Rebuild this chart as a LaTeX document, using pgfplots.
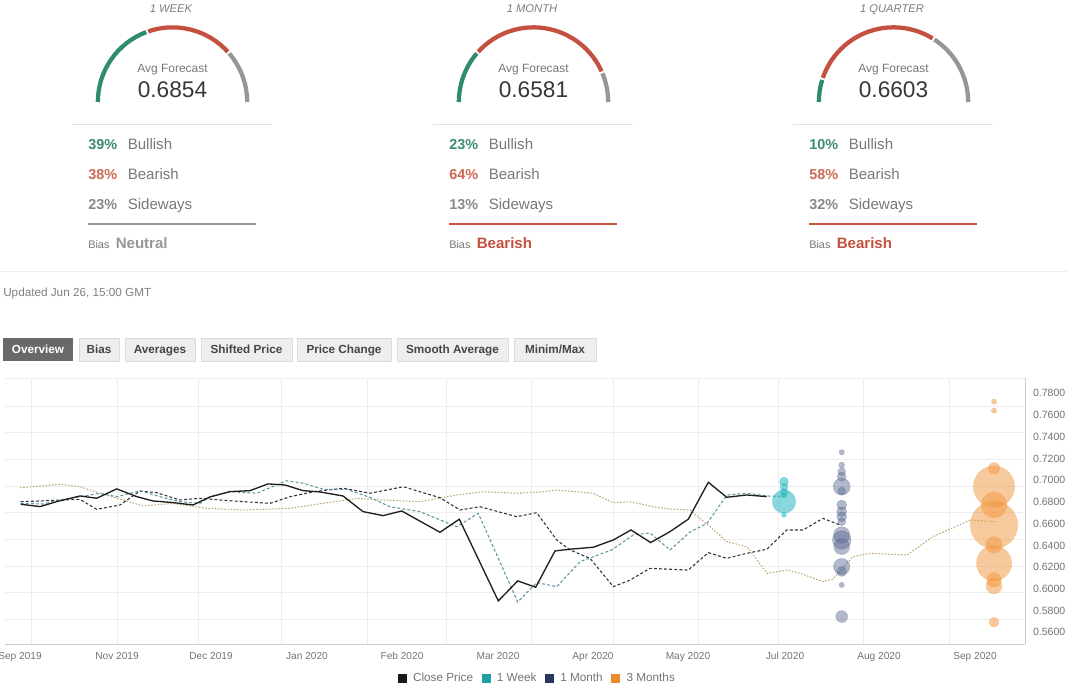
\documentclass[border=0pt]{standalone}
\usepackage{pgfplots}
\pgfplotsset{compat=1.18}
\usepackage{pgfplotstable}
\usepackage{fontspec}
\setmainfont{Liberation Sans}

\definecolor{gGreen}{RGB}{46,139,110}
\definecolor{gRed}{RGB}{196,80,64}
\definecolor{gGray}{RGB}{150,150,150}
\definecolor{pGreen}{RGB}{60,140,112}
\definecolor{pRed}{RGB}{205,105,82}
\definecolor{pGray}{RGB}{135,135,135}
\definecolor{txtGray}{RGB}{120,120,120}
\definecolor{ttlGray}{RGB}{125,125,125}
\definecolor{valGray}{RGB}{55,55,55}
\definecolor{sepGray}{RGB}{225,225,225}
\definecolor{tabFill}{RGB}{238,238,238}
\definecolor{tabBorder}{RGB}{218,218,218}
\definecolor{tabText}{RGB}{70,70,70}
\definecolor{tabDark}{RGB}{105,105,105}
\definecolor{wk}{RGB}{55,188,196}
\definecolor{mo}{RGB}{85,100,142}
\definecolor{qt}{RGB}{240,150,60}
\definecolor{wkLine}{RGB}{95,150,158}
\definecolor{moLine}{RGB}{45,50,65}
\definecolor{qtLine}{RGB}{190,170,120}
\definecolor{lgWk}{RGB}{32,160,162}
\definecolor{lgMo}{RGB}{42,56,95}
\definecolor{lgQt}{RGB}{235,140,45}

\newcommand{\fs}[1]{\fontsize{#1}{#1}\selectfont}

% gauge panel: #1 x offset (px), #2 title, #3 avg, #4 bull, #5 bear, #6 side, #7 bias word, #8 bias colour
\newcommand{\gauge}[8]{%
\begin{scope}[xshift=#1*0.75pt]
\pgfmathsetmacro\aA{180-1.8*#4}
\pgfmathsetmacro\aB{\aA-1.8*#5}
\pgfmathsetmacro\aAp{\aA+0.8}
\pgfmathsetmacro\aAm{\aA-0.8}
\pgfmathsetmacro\aBp{\aB+0.8}
\pgfmathsetmacro\aBm{\aB-0.8}
\draw[gGreen,line width=3.2pt] ([shift={(180:56pt)}]172.5,102) arc[start angle=180,end angle=\aAp,radius=56pt];
\draw[gRed,line width=3.2pt] ([shift={(\aAm:56pt)}]172.5,102) arc[start angle=\aAm,end angle=\aBp,radius=56pt];
\draw[gGray,line width=3.2pt] ([shift={(\aBm:56pt)}]172.5,102) arc[start angle=\aBm,end angle=0,radius=56pt];
\node[anchor=base,inner sep=0,font=\itshape\fs{8.4},text=ttlGray] at (171,12) {#2};
\node[anchor=base,inner sep=0,font=\fs{9},text=txtGray] at (172.5,72) {Avg Forecast};
\node[anchor=base,inner sep=0,font=\fs{17},text=valGray] at (172.5,97.4) {#3};
\draw[sepGray,line width=0.75pt] (72,124) -- (272,124);
\node[anchor=base west,inner sep=0,font=\bfseries\fs{10.8},text=pGreen] at (88,149.4) {#4\%};
\node[anchor=base west,inner sep=0,font=\fs{11.3},text=txtGray] at (127.5,149.4) {Bullish};
\node[anchor=base west,inner sep=0,font=\bfseries\fs{10.8},text=pRed] at (88,179.4) {#5\%};
\node[anchor=base west,inner sep=0,font=\fs{11.3},text=txtGray] at (127.5,179.4) {Bearish};
\node[anchor=base west,inner sep=0,font=\bfseries\fs{10.8},text=pGray] at (88,209.4) {#6\%};
\node[anchor=base west,inner sep=0,font=\fs{11.3},text=txtGray] at (127.5,209.4) {Sideways};
\draw[#8,line width=1.5pt] (88,224) -- (256,224);
\node[anchor=base west,inner sep=0,font=\fs{8.2},text=txtGray] at (88,248.4) {Bias};
\node[anchor=base west,inner sep=0,font=\bfseries\fs{11.3},text=#8] at (115.5,248.4) {#7};
\end{scope}}

\newcommand{\tabbox}[3]{%
\filldraw[fill=tabFill,draw=tabBorder,line width=0.75pt] (#1,338) rectangle (#2,361);
\node[anchor=base,inner sep=0,font=\bfseries\fs{8.8},text=tabText] at ({(#1+#2)/2},353.6) {#3};}

\pgfplotstableread{
x y
20.7 0.6779
40 0.6757
56.7 0.6803
80 0.6855
96.7 0.6834
116.7 0.6920
136.7 0.6849
153 0.6809
173 0.6794
193 0.6772
210 0.6846
230 0.6895
250 0.6904
268 0.6966
285 0.6956
303 0.6904
320 0.6892
343 0.6855
363 0.6711
383 0.6674
401.7 0.6717
440 0.6521
459.3 0.6641
498.3 0.5889
517.7 0.6073
535.7 0.6015
555 0.6349
570 0.6365
593.3 0.6383
613.3 0.6450
631 0.6542
650.7 0.6426
670 0.6527
688.3 0.6641
708.3 0.6981
726.7 0.6843
746.7 0.6864
766.7 0.6849
}\closeprice

\pgfplotstableread{
x y
20.7 0.6787
43.3 0.6781
60 0.6818
80 0.6848
100 0.6880
116.7 0.6848
140 0.6903
160 0.6848
180 0.6802
200 0.6787
210 0.6848
230 0.6894
256.7 0.6880
286.7 0.6995
303.3 0.6972
323.3 0.6916
346.7 0.6916
370 0.6841
390 0.6756
420 0.6710
456.7 0.6572
478.3 0.6695
517.7 0.5879
536.7 0.6058
556.7 0.6020
580 0.6250
611.7 0.6358
633.3 0.6496
650 0.6514
670 0.6358
690 0.6523
707 0.6603
727 0.6864
747 0.6880
767 0.6855
784 0.6849
}\weekline

\pgfplotstableread{
x y
20.7 0.6802
80 0.6824
96.7 0.6732
120 0.6772
140 0.6901
156.7 0.6885
180 0.6818
200 0.6833
230 0.6811
270 0.6787
290 0.6848
313.3 0.6894
343.3 0.6926
370 0.6880
403.3 0.6940
440 0.6839
460 0.6726
480 0.6756
516.7 0.6664
536.7 0.6701
556.7 0.6450
570 0.6358
590 0.6281
613.3 0.6020
630 0.6081
650 0.6189
688.3 0.6173
708.3 0.6333
726.7 0.6281
746.7 0.6327
766.7 0.6364
786.7 0.6542
803 0.6542
823 0.6649
840 0.6588
}\monthline

\pgfplotstableread{
x y
20 0.6931
60 0.6962
80 0.6940
100 0.6880
120 0.6827
143 0.6763
173 0.6787
206 0.6741
243 0.6726
290 0.6741
323 0.6787
357 0.6833
383 0.6818
420 0.6802
457 0.6864
483 0.6894
517 0.6880
543 0.6894
557 0.6910
593 0.6880
613 0.6793
630 0.6802
653 0.6756
670 0.6735
690 0.6726
710 0.6572
727 0.6434
747 0.6388
767 0.6143
787 0.6173
800 0.6143
823 0.6066
833 0.6090
853 0.6296
870 0.6327
907 0.6312
933 0.6480
970 0.6634
997 0.6618
}\quarterline

\pgfplotstableread{
x y r
784 0.6987 3.4
784 0.6938 3.0
784 0.6890 3.0
784 0.6864 2.25
784 0.6803 8.8
784 0.6680 1.9
}\weekbub

\pgfplotstableread{
x y r
841.7 0.7257 2.0
841.7 0.7140 2.25
841.7 0.7079 3.0
841.7 0.7033 3.4
841.7 0.6941 6.4
841.7 0.6900 3.0
841.7 0.6772 3.75
841.7 0.6711 3.75
841.7 0.6665 3.75
841.7 0.6619 3.0
841.7 0.6496 6.2
841.7 0.6450 7.0
841.7 0.6389 6.0
841.7 0.6205 6.2
841.7 0.6160 3.75
841.7 0.6036 2.0
841.7 0.5745 4.5
}\monthbub

\pgfplotstableread{
x y r
994 0.7723 2.0
994 0.7640 2.0
994 0.7110 4.3
994 0.6941 15.5
994 0.6772 9.75
994 0.6588 17.8
994 0.6404 6.2
994 0.6236 13.2
994 0.6082 5.5
994 0.6027 6.0
994 0.5693 3.75
}\quarterbub

\begin{document}
\begin{tikzpicture}
\useasboundingbox (0,0) rectangle (800.25pt,-514.5pt);
\begin{scope}[x=0.75pt,y=-0.75pt]
\gauge{0}{1 WEEK}{0.6854}{39}{38}{23}{Neutral}{gGray}
\gauge{361}{1 MONTH}{0.6581}{23}{64}{13}{Bearish}{gRed}
\gauge{721}{1 QUARTER}{0.6603}{10}{58}{32}{Bearish}{gRed}
\draw[black!7,line width=0.75pt] (0,271) -- (1067,271);
\node[anchor=base west,inner sep=0,font=\fs{8.8},text=black!50] at (3,296) {Updated Jun 26, 15:00 GMT};
\fill[tabDark] (3,338) rectangle (73,361);
\node[anchor=base,inner sep=0,font=\bfseries\fs{8.8},text=white] at (38,353.6) {Overview};
\tabbox{79}{119}{Bias}
\tabbox{125}{195}{Averages}
\tabbox{201}{292}{Shifted Price}
\tabbox{297}{391}{Price Change}
\tabbox{397}{508}{Smooth Average}
\tabbox{514}{596}{Minim/Max}
\end{scope}

\begin{axis}[
  at={(3.75pt,-483pt)}, anchor=south west,
  width=765pt, height=199.5pt, scale only axis,
  xmin=5, xmax=1025, ymin=0.54923, ymax=0.79408,
  axis x line*=bottom, axis y line*=right,
  axis line style={draw=black!20, line width=0.75pt},
  major tick length=0pt,
  xtick={31,117,198,281,367,446,531,613,698,778,863,949},
  xticklabels={},
  xmajorgrids,
  grid style={draw=black!7, line width=0.75pt},
  extra x ticks={20,117,211,307,402,498,593,688,785,879,975},
  extra x tick labels={Sep 2019,Nov 2019,Dec 2019,Jan 2020,Feb 2020,Mar 2020,Apr 2020,May 2020,Jul 2020,Aug 2020,Sep 2020},
  extra x tick style={grid=none, major tick length=0pt},
  x tick label style={font=\fs{7.6}, text=black!55, yshift=-2.5pt},
  ytick={0.56,0.58,0.60,0.62,0.64,0.66,0.68,0.70,0.72,0.74,0.76,0.78},
  yticklabel pos=right,
  y tick label style={font=\fs{7.9}, text=black!55, xshift=2.5pt,
    /pgf/number format/fixed, /pgf/number format/fixed zerofill,
    /pgf/number format/precision=4, /pgf/number format/assume math mode=true},
  extra y ticks={0.7938,0.7683,0.74375,0.7192,0.69465,0.6701,0.64555,0.621,0.59645,0.5719},
  extra y tick labels={},
  extra y tick style={grid=major, major tick length=0pt},
  legend columns=4,
  legend style={at={(0.5216,-0.128)}, anchor=center, draw=none, fill=none,
    font=\fs{8.8}, text=black!55, inner sep=0pt,
    nodes={inner sep=1pt},
    /tikz/every odd column/.append style={column sep=4pt},
    /tikz/every even column/.append style={column sep=5.5pt}},
]
\addlegendimage{legend image code/.code={\fill[black!90] (0pt,-3pt) rectangle (6pt,3pt);}}
\addlegendentry{Close Price}
\addlegendimage{legend image code/.code={\fill[lgWk] (0pt,-3pt) rectangle (6pt,3pt);}}
\addlegendentry{1 Week}
\addlegendimage{legend image code/.code={\fill[lgMo] (0pt,-3pt) rectangle (6pt,3pt);}}
\addlegendentry{1 Month}
\addlegendimage{legend image code/.code={\fill[lgQt] (0pt,-3pt) rectangle (6pt,3pt);}}
\addlegendentry{3 Months}

\addplot[forget plot, qtLine, line width=0.8pt, dash pattern=on 1.2pt off 1.2pt] table[x=x,y=y]{\quarterline};
\addplot[forget plot, moLine, line width=0.8pt, dash pattern=on 2.2pt off 1.6pt] table[x=x,y=y]{\monthline};
\addplot[forget plot, wkLine, line width=0.8pt, dash pattern=on 2.2pt off 1.6pt] table[x=x,y=y]{\weekline};
\addplot[forget plot, black!88, line width=1.0pt] table[x=x,y=y]{\closeprice};

\addplot[forget plot, scatter, only marks, mark=*,
  scatter/use mapped color={draw=wk, fill=wk, fill opacity=0.6, draw opacity=0.35},
  visualization depends on={\thisrow{r}\as\rr},
  scatter/@pre marker code/.append style={/tikz/mark size=\rr}]
  table[x=x,y=y]{\weekbub};
\addplot[forget plot, scatter, only marks, mark=*,
  scatter/use mapped color={draw=mo, fill=mo, fill opacity=0.45, draw opacity=0.3},
  visualization depends on={\thisrow{r}\as\rr},
  scatter/@pre marker code/.append style={/tikz/mark size=\rr}]
  table[x=x,y=y]{\monthbub};
\addplot[forget plot, scatter, only marks, mark=*,
  scatter/use mapped color={draw=qt, fill=qt, fill opacity=0.5, draw opacity=0.3},
  visualization depends on={\thisrow{r}\as\rr},
  scatter/@pre marker code/.append style={/tikz/mark size=\rr}]
  table[x=x,y=y]{\quarterbub};
\end{axis}
\end{tikzpicture}
\end{document}
